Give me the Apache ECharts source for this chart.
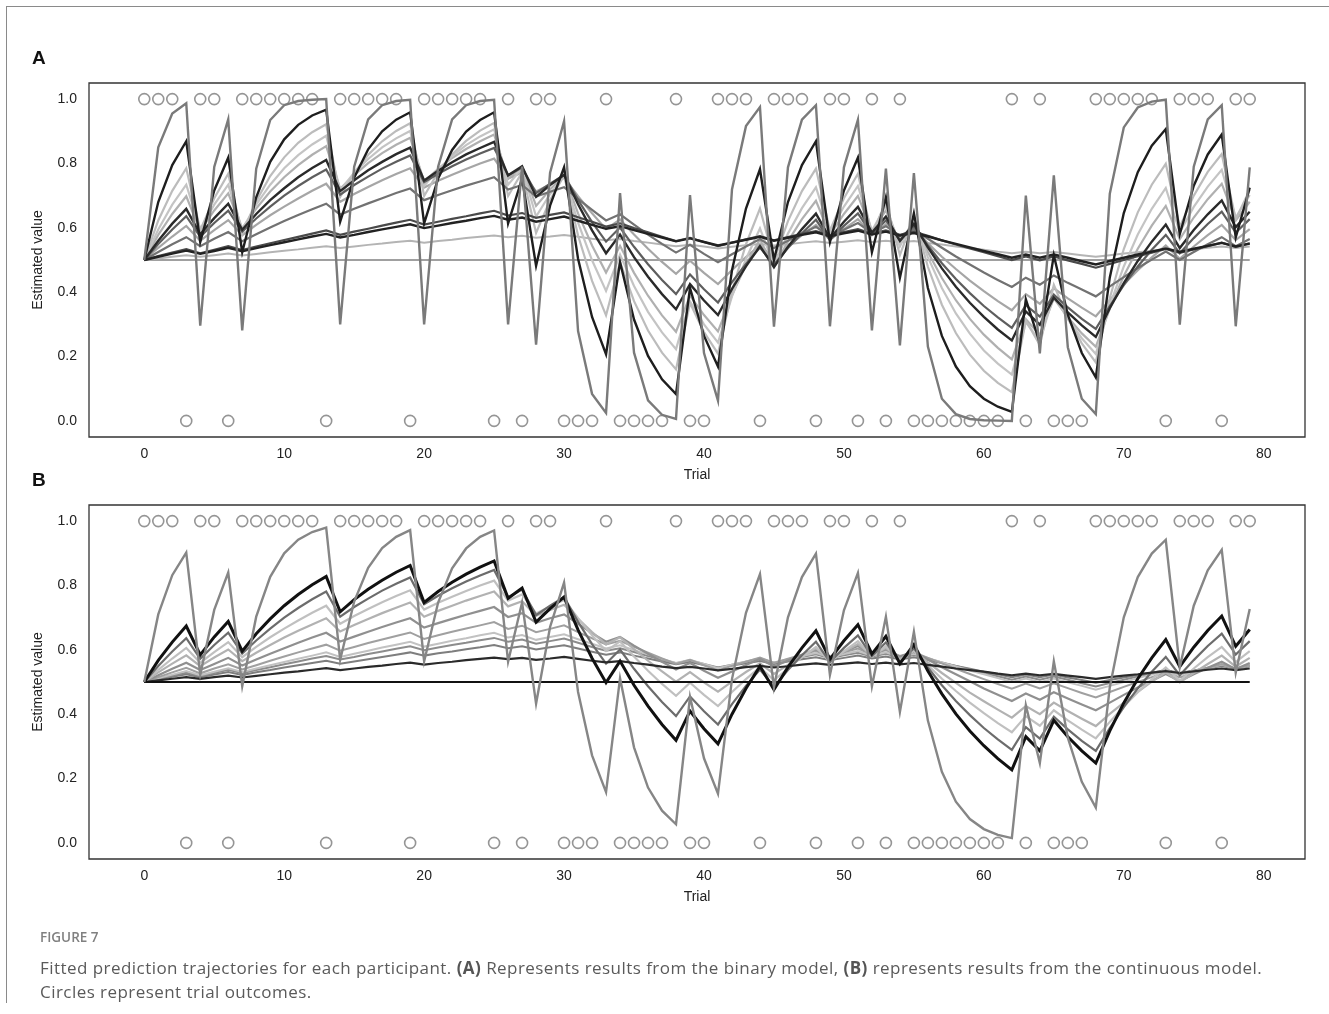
<!DOCTYPE html>
<html>
<head>
<meta charset="utf-8">
<script src="https://cdn.jsdelivr.net/npm/echarts@6/dist/echarts.min.js"></script>
<style>
  html,body{margin:0;padding:0;background:#fff;}
  #wrap{position:relative;width:1329px;height:1014px;overflow:hidden;background:#fff;}
  #chart{position:absolute;left:0;top:0;width:1329px;height:1014px;}
  #frame{position:absolute;left:6px;top:6px;width:1330px;height:996px;border-left:1.6px solid #8a8a8a;border-top:1.6px solid #8a8a8a;z-index:5;pointer-events:none;}
  #fig{position:absolute;left:40px;top:928px;font-family:"Open Sans",sans-serif;font-size:13.5px;font-weight:600;color:#808080;z-index:6;}
  #cap{position:absolute;left:40px;top:956px;width:1285px;font-family:"Open Sans",sans-serif;font-size:17px;letter-spacing:0.45px;line-height:24px;color:#5a5a5a;z-index:6;white-space:nowrap;}
  #cap b{color:#555;}
</style>
</head>
<body>
<div id="wrap">
  <div id="chart"></div>
  <div id="frame"></div>
  <div id="fig">FIGURE 7</div>
  <div id="cap">Fitted prediction trajectories for each participant. <b>(A)</b> Represents results from the binary model, <b>(B)</b> represents results from the continuous model.<br>Circles represent trial outcomes.</div>
</div>
<script>
// Trial outcomes (1 = circle at top, 0 = circle at bottom)
const outcomes = [1,1,1,0,1,1,0,1,1,1, 1,1,1,0,1,1,1,1,1,0, 1,1,1,1,1,0,1,0,1,1, 0,0,0,1,0,0,0,0,1,0, 0,1,1,1,0,1,1,1,0,1, 1,0,1,0,1,0,0,0,0,0, 0,0,1,0,1,0,0,0,1,1, 1,1,1,0,1,1,1,0,1,1];
const xTicks = [0,10,20,30,40,50,60,70,80];
const yTicks = [0,0.2,0.4,0.6,0.8,1.0];

// Panel A trajectories (binary model)
const a70 = [0.5,0.85,0.955,0.987,0.296,0.789,0.937,0.281,0.784,0.935,0.981,0.994,0.998,1.0,0.3,0.79,0.937,0.981,0.994,0.998,0.3,0.79,0.937,0.981,0.994,0.998,0.3,0.79,0.237,0.771,0.931,0.279,0.084,0.025,0.708,0.212,0.064,0.019,0.006,0.702,0.211,0.063,0.719,0.916,0.975,0.293,0.788,0.936,0.981,0.294,0.788,0.936,0.281,0.784,0.235,0.77,0.231,0.069,0.021,0.006,0.002,0.001,0.0,0.7,0.21,0.763,0.229,0.069,0.021,0.706,0.912,0.974,0.992,0.998,0.299,0.79,0.937,0.981,0.294,0.788];
const a36 = [0.5,0.68,0.795,0.869,0.556,0.716,0.818,0.524,0.695,0.805,0.875,0.92,0.949,0.967,0.619,0.756,0.844,0.9,0.936,0.959,0.614,0.753,0.842,0.899,0.935,0.959,0.614,0.753,0.482,0.669,0.788,0.504,0.323,0.207,0.493,0.315,0.202,0.129,0.083,0.413,0.264,0.169,0.468,0.66,0.782,0.5,0.68,0.795,0.869,0.556,0.716,0.818,0.524,0.695,0.445,0.645,0.413,0.264,0.169,0.108,0.069,0.044,0.028,0.378,0.242,0.515,0.33,0.211,0.135,0.446,0.646,0.773,0.855,0.907,0.58,0.731,0.828,0.89,0.57,0.725];
const a245 = [0.5,0.623,0.715,0.785,0.593,0.692,0.768,0.58,0.683,0.761,0.819,0.864,0.897,0.922,0.696,0.771,0.827,0.869,0.901,0.925,0.699,0.773,0.828,0.87,0.902,0.926,0.699,0.773,0.584,0.686,0.763,0.576,0.435,0.328,0.493,0.372,0.281,0.212,0.16,0.366,0.276,0.209,0.403,0.549,0.66,0.498,0.621,0.714,0.784,0.592,0.692,0.768,0.579,0.682,0.515,0.634,0.479,0.361,0.273,0.206,0.156,0.118,0.089,0.312,0.236,0.423,0.319,0.241,0.182,0.382,0.534,0.648,0.734,0.799,0.603,0.7,0.774,0.829,0.626,0.718];
const a19 = [0.5,0.595,0.672,0.734,0.595,0.672,0.734,0.595,0.672,0.734,0.785,0.826,0.859,0.886,0.717,0.771,0.814,0.85,0.878,0.901,0.73,0.781,0.823,0.857,0.884,0.906,0.734,0.785,0.635,0.705,0.761,0.616,0.499,0.404,0.517,0.419,0.339,0.275,0.223,0.371,0.3,0.243,0.387,0.503,0.598,0.484,0.582,0.661,0.726,0.588,0.666,0.73,0.591,0.669,0.542,0.629,0.509,0.413,0.334,0.271,0.219,0.178,0.144,0.307,0.248,0.391,0.317,0.257,0.208,0.359,0.48,0.579,0.659,0.724,0.586,0.665,0.728,0.78,0.632,0.702];
const a155 = [0.5,0.578,0.643,0.698,0.59,0.654,0.707,0.598,0.66,0.713,0.757,0.795,0.827,0.854,0.721,0.764,0.801,0.832,0.858,0.88,0.744,0.783,0.817,0.845,0.869,0.89,0.752,0.79,0.668,0.719,0.763,0.645,0.545,0.461,0.544,0.46,0.389,0.328,0.277,0.389,0.329,0.278,0.39,0.485,0.564,0.477,0.558,0.627,0.684,0.578,0.643,0.699,0.59,0.654,0.552,0.621,0.525,0.444,0.375,0.317,0.268,0.227,0.191,0.316,0.267,0.381,0.322,0.272,0.23,0.349,0.45,0.535,0.607,0.668,0.565,0.632,0.689,0.737,0.623,0.681];
const a12 = [0.5,0.56,0.613,0.659,0.58,0.63,0.675,0.594,0.643,0.686,0.723,0.757,0.786,0.811,0.714,0.748,0.779,0.805,0.829,0.849,0.747,0.777,0.804,0.828,0.848,0.867,0.763,0.791,0.696,0.733,0.765,0.673,0.592,0.521,0.579,0.509,0.448,0.394,0.347,0.425,0.374,0.329,0.41,0.48,0.543,0.478,0.541,0.596,0.644,0.567,0.619,0.665,0.585,0.635,0.559,0.612,0.539,0.474,0.417,0.367,0.323,0.284,0.25,0.34,0.299,0.383,0.337,0.297,0.261,0.35,0.428,0.497,0.557,0.61,0.537,0.593,0.642,0.685,0.602,0.65];
const a10 = [0.5,0.55,0.595,0.636,0.572,0.615,0.653,0.588,0.629,0.666,0.7,0.73,0.757,0.781,0.703,0.733,0.759,0.784,0.805,0.825,0.742,0.768,0.791,0.812,0.831,0.848,0.763,0.787,0.708,0.737,0.764,0.687,0.618,0.557,0.601,0.541,0.487,0.438,0.394,0.455,0.409,0.368,0.431,0.488,0.539,0.485,0.537,0.583,0.625,0.562,0.606,0.645,0.581,0.623,0.561,0.605,0.545,0.49,0.441,0.397,0.357,0.322,0.289,0.36,0.324,0.392,0.353,0.317,0.286,0.357,0.422,0.48,0.532,0.578,0.521,0.568,0.612,0.65,0.585,0.627];
const a076 = [0.5,0.538,0.573,0.606,0.56,0.593,0.624,0.577,0.609,0.639,0.666,0.691,0.715,0.737,0.681,0.705,0.727,0.748,0.767,0.785,0.725,0.746,0.765,0.783,0.8,0.815,0.753,0.772,0.713,0.735,0.755,0.698,0.645,0.596,0.626,0.579,0.535,0.494,0.457,0.498,0.46,0.425,0.469,0.509,0.546,0.505,0.542,0.577,0.609,0.563,0.596,0.627,0.579,0.611,0.565,0.598,0.552,0.51,0.472,0.436,0.403,0.372,0.344,0.394,0.364,0.412,0.381,0.352,0.325,0.376,0.424,0.468,0.508,0.545,0.504,0.542,0.577,0.609,0.562,0.596];
const a05 = [0.5,0.525,0.549,0.571,0.543,0.566,0.587,0.558,0.58,0.601,0.621,0.64,0.658,0.675,0.641,0.659,0.676,0.692,0.708,0.722,0.686,0.702,0.717,0.731,0.744,0.757,0.719,0.733,0.697,0.712,0.726,0.69,0.656,0.623,0.642,0.61,0.579,0.55,0.523,0.547,0.519,0.493,0.518,0.542,0.565,0.537,0.56,0.582,0.603,0.573,0.594,0.615,0.584,0.605,0.575,0.596,0.566,0.538,0.511,0.486,0.461,0.438,0.416,0.445,0.423,0.452,0.429,0.408,0.387,0.418,0.447,0.475,0.501,0.526,0.5,0.525,0.549,0.571,0.543,0.565];
const a023 = [0.5,0.512,0.523,0.534,0.521,0.532,0.543,0.531,0.542,0.552,0.562,0.572,0.582,0.592,0.578,0.588,0.597,0.607,0.616,0.625,0.61,0.619,0.628,0.636,0.645,0.653,0.638,0.646,0.631,0.64,0.648,0.633,0.619,0.604,0.614,0.599,0.586,0.572,0.559,0.569,0.556,0.543,0.554,0.564,0.574,0.561,0.571,0.581,0.59,0.577,0.587,0.596,0.582,0.592,0.578,0.588,0.575,0.561,0.548,0.536,0.524,0.512,0.5,0.511,0.499,0.511,0.499,0.488,0.476,0.488,0.5,0.512,0.523,0.534,0.522,0.533,0.543,0.554,0.541,0.552];
const a02 = [0.5,0.51,0.52,0.529,0.519,0.528,0.538,0.527,0.537,0.546,0.555,0.564,0.573,0.581,0.57,0.578,0.587,0.595,0.603,0.611,0.599,0.607,0.615,0.622,0.63,0.637,0.625,0.632,0.619,0.627,0.635,0.622,0.609,0.597,0.605,0.593,0.581,0.57,0.558,0.567,0.556,0.545,0.554,0.563,0.572,0.56,0.569,0.578,0.586,0.574,0.583,0.591,0.579,0.588,0.576,0.584,0.573,0.561,0.55,0.539,0.528,0.518,0.507,0.517,0.507,0.517,0.507,0.496,0.486,0.497,0.507,0.517,0.526,0.536,0.525,0.535,0.544,0.553,0.542,0.551];
const a01 = [0.5,0.505,0.51,0.515,0.51,0.515,0.52,0.514,0.519,0.524,0.529,0.533,0.538,0.543,0.537,0.542,0.547,0.551,0.556,0.56,0.554,0.559,0.563,0.568,0.572,0.576,0.571,0.575,0.569,0.573,0.578,0.572,0.566,0.561,0.565,0.559,0.554,0.548,0.543,0.547,0.542,0.536,0.541,0.546,0.55,0.545,0.549,0.554,0.558,0.553,0.557,0.561,0.556,0.56,0.555,0.559,0.553,0.548,0.542,0.537,0.532,0.526,0.521,0.526,0.521,0.525,0.52,0.515,0.51,0.515,0.52,0.524,0.529,0.534,0.528,0.533,0.538,0.542,0.537,0.542];
const flat = [0.5,0.5,0.5,0.5,0.5,0.5,0.5,0.5,0.5,0.5,0.5,0.5,0.5,0.5,0.5,0.5,0.5,0.5,0.5,0.5,0.5,0.5,0.5,0.5,0.5,0.5,0.5,0.5,0.5,0.5,0.5,0.5,0.5,0.5,0.5,0.5,0.5,0.5,0.5,0.5,0.5,0.5,0.5,0.5,0.5,0.5,0.5,0.5,0.5,0.5,0.5,0.5,0.5,0.5,0.5,0.5,0.5,0.5,0.5,0.5,0.5,0.5,0.5,0.5,0.5,0.5,0.5,0.5,0.5,0.5,0.5,0.5,0.5,0.5,0.5,0.5,0.5,0.5,0.5,0.5];

// Panel B trajectories (continuous model)
const b42 = [0.5,0.71,0.832,0.902,0.523,0.724,0.84,0.487,0.703,0.827,0.9,0.942,0.966,0.98,0.569,0.75,0.855,0.916,0.951,0.972,0.564,0.747,0.853,0.915,0.951,0.971,0.563,0.747,0.433,0.671,0.809,0.469,0.272,0.158,0.512,0.297,0.172,0.1,0.058,0.454,0.263,0.153,0.509,0.715,0.835,0.484,0.701,0.826,0.899,0.522,0.723,0.839,0.487,0.703,0.407,0.656,0.38,0.221,0.128,0.074,0.043,0.025,0.015,0.428,0.248,0.564,0.327,0.19,0.11,0.484,0.701,0.826,0.899,0.942,0.546,0.737,0.847,0.911,0.529,0.727];
const b133 = [0.5,0.567,0.624,0.674,0.584,0.64,0.688,0.596,0.65,0.696,0.737,0.772,0.802,0.828,0.718,0.756,0.788,0.816,0.841,0.862,0.747,0.781,0.81,0.835,0.857,0.876,0.76,0.792,0.686,0.728,0.764,0.662,0.574,0.498,0.565,0.49,0.425,0.368,0.319,0.41,0.355,0.308,0.4,0.48,0.549,0.476,0.546,0.606,0.659,0.571,0.628,0.678,0.587,0.642,0.557,0.616,0.534,0.463,0.401,0.348,0.302,0.262,0.227,0.33,0.286,0.381,0.33,0.286,0.248,0.348,0.435,0.51,0.575,0.632,0.548,0.608,0.66,0.705,0.611,0.663];
const b059 = [0.5,0.53,0.557,0.583,0.549,0.576,0.601,0.565,0.591,0.615,0.638,0.659,0.679,0.698,0.657,0.677,0.696,0.714,0.731,0.747,0.703,0.721,0.737,0.753,0.767,0.781,0.735,0.751,0.706,0.724,0.74,0.696,0.655,0.617,0.639,0.602,0.566,0.533,0.501,0.531,0.499,0.47,0.501,0.531,0.558,0.525,0.553,0.58,0.605,0.569,0.594,0.618,0.582,0.606,0.571,0.596,0.561,0.528,0.497,0.467,0.44,0.414,0.389,0.425,0.4,0.436,0.41,0.386,0.363,0.401,0.436,0.469,0.501,0.53,0.499,0.528,0.556,0.582,0.548,0.575];
const b042 = [0.5,0.521,0.541,0.56,0.537,0.556,0.575,0.551,0.57,0.588,0.605,0.622,0.638,0.653,0.626,0.641,0.656,0.671,0.685,0.698,0.669,0.683,0.696,0.709,0.721,0.733,0.702,0.714,0.684,0.698,0.71,0.681,0.652,0.625,0.64,0.613,0.588,0.563,0.539,0.559,0.535,0.513,0.533,0.553,0.572,0.548,0.567,0.585,0.602,0.577,0.595,0.612,0.586,0.603,0.578,0.595,0.57,0.546,0.524,0.502,0.48,0.46,0.441,0.464,0.445,0.468,0.449,0.43,0.412,0.436,0.46,0.483,0.504,0.525,0.503,0.524,0.544,0.563,0.54,0.559];
const b03 = [0.5,0.515,0.53,0.544,0.527,0.542,0.555,0.539,0.552,0.566,0.579,0.592,0.604,0.616,0.597,0.609,0.621,0.632,0.643,0.654,0.634,0.645,0.656,0.666,0.676,0.686,0.665,0.675,0.655,0.665,0.676,0.655,0.636,0.617,0.628,0.609,0.591,0.573,0.556,0.569,0.552,0.536,0.55,0.563,0.576,0.559,0.572,0.585,0.597,0.579,0.592,0.604,0.586,0.599,0.581,0.593,0.575,0.558,0.541,0.525,0.509,0.494,0.479,0.495,0.48,0.496,0.481,0.466,0.452,0.469,0.485,0.5,0.515,0.53,0.514,0.528,0.543,0.556,0.54,0.553];
const b016 = [0.5,0.508,0.516,0.524,0.515,0.523,0.531,0.522,0.53,0.537,0.545,0.552,0.559,0.566,0.557,0.564,0.571,0.578,0.585,0.592,0.582,0.589,0.595,0.602,0.608,0.615,0.605,0.611,0.601,0.608,0.614,0.604,0.594,0.585,0.592,0.582,0.573,0.564,0.555,0.562,0.553,0.544,0.551,0.558,0.565,0.556,0.564,0.571,0.577,0.568,0.575,0.582,0.573,0.579,0.57,0.577,0.568,0.559,0.55,0.541,0.532,0.524,0.515,0.523,0.515,0.523,0.514,0.506,0.498,0.506,0.514,0.522,0.529,0.537,0.528,0.536,0.543,0.55,0.542,0.549];

const panelA = [
  {d: flat, c: '#a0a0a0', w: 2},
  {d: a01, c: '#b4b4b4', w: 2},
  {d: a076, c: '#a6a6a6', w: 2.2},
  {d: a155, c: '#b0b0b0', w: 2.2},
  {d: a19, c: '#c4c4c4', w: 2.2},
  {d: a245, c: '#bcbcbc', w: 2.2},
  {d: a05, c: '#727272', w: 2.2},
  {d: a10, c: '#5e5e5e', w: 2.2},
  {d: a023, c: '#4a4a4a', w: 2.2},
  {d: a02, c: '#222222', w: 2.4},
  {d: a12, c: '#2a2a2a', w: 2.4},
  {d: a36, c: '#1e1e1e', w: 2.4},
  {d: a70, c: '#7a7a7a', w: 2.4}
];
const panelB = [
  {d: b016, c: '#7e7e7e', w: 2},
  {d: a02, c: '#8c8c8c', w: 2},
  {d: a023, c: '#c2c2c2', w: 2},
  {d: b03, c: '#a0a0a0', w: 2},
  {d: b042, c: '#909090', w: 2.2},
  {d: b059, c: '#b2b2b2', w: 2.2},
  {d: a076, c: '#c0c0c0', w: 2.2},
  {d: a10, c: '#6c6c6c', w: 2.2},
  {d: a01, c: '#2a2a2a', w: 2.2},
  {d: flat, c: '#111111', w: 2.2},
  {d: b133, c: '#111111', w: 3},
  {d: b42, c: '#868686', w: 2.4}
];

const chart = echarts.init(document.getElementById('chart'), null, {renderer: 'canvas'});
const FONT = 'Liberation Sans, Arial, sans-serif';

function xAxisFor(g) {
  return {
    type: 'value', gridIndex: g, min: -3.95, max: 82.95,
    axisLine: {show: false}, axisTick: {show: false}, splitLine: {show: false},
    axisLabel: {customValues: xTicks, fontSize: 14, color: '#222', margin: 10, fontFamily: FONT},
    name: 'Trial', nameLocation: 'middle', nameGap: 31,
    nameTextStyle: {fontSize: 14, color: '#222', fontFamily: FONT}
  };
}
function yAxisFor(g) {
  return {
    type: 'value', gridIndex: g, min: -0.05, max: 1.05,
    axisLine: {show: false}, axisTick: {show: false}, splitLine: {show: false},
    axisLabel: {customValues: yTicks, fontSize: 14, color: '#222', margin: 12, fontFamily: FONT,
      formatter: v => v.toFixed(1)},
    name: 'Estimated value', nameLocation: 'middle', nameGap: 44, nameRotate: 90,
    nameTextStyle: {fontSize: 14, color: '#222', fontFamily: FONT}
  };
}

const series = [];
[0, 1].forEach(g => {
  series.push({
    type: 'scatter', xAxisIndex: g, yAxisIndex: g, symbol: 'circle', symbolSize: 11, z: 1,
    silent: true,
    itemStyle: {color: 'rgba(255,255,255,0)', borderColor: '#7a7a7a', borderWidth: 1.6},
    data: outcomes.map((o, i) => [i, o])
  });
  const lines = g === 0 ? panelA : panelB;
  lines.forEach((ln, k) => {
    series.push({
      type: 'line', xAxisIndex: g, yAxisIndex: g, showSymbol: false, silent: true, z: 2 + k,
      animation: false,
      lineStyle: {color: ln.c, width: ln.w, join: 'miter'},
      data: ln.d.map((v, i) => [i, v])
    });
  });
});

chart.setOption({
  animation: false,
  backgroundColor: '#fff',
  title: [
    {text: 'A', left: 27, top: 44, textStyle: {fontSize: 19, fontWeight: 'bold', color: '#111', fontFamily: FONT}},
    {text: 'B', left: 27, top: 466, textStyle: {fontSize: 19, fontWeight: 'bold', color: '#111', fontFamily: FONT}}
  ],
  grid: [
    {left: 89, top: 83, width: 1216, height: 354, show: true, borderColor: '#333', borderWidth: 1.3, backgroundColor: 'transparent'},
    {left: 89, top: 505, width: 1216, height: 354, show: true, borderColor: '#333', borderWidth: 1.3, backgroundColor: 'transparent'}
  ],
  xAxis: [xAxisFor(0), xAxisFor(1)],
  yAxis: [yAxisFor(0), yAxisFor(1)],
  series: series
});
</script>
</body>
</html>
